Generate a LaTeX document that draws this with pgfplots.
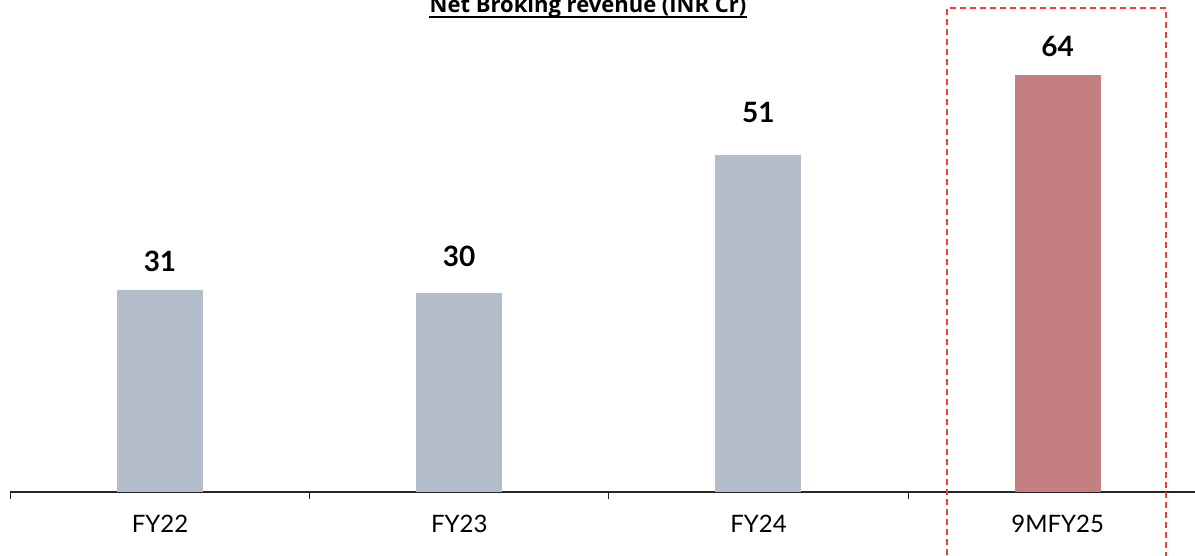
\documentclass[border=0pt]{standalone}
\usepackage{fontspec}
\setmainfont{Lato}
\newfontfamily\titlefont{Open Sans}
\usepackage{pgfplots}
\pgfplotsset{compat=1.18}
\definecolor{barGray}{RGB}{179,189,201}
\definecolor{barRed}{RGB}{196,128,128}
\definecolor{boxRed}{RGB}{245,60,60}
\begin{document}
\begin{tikzpicture}[x=1pt,y=1pt]
\begin{axis}[
  at={(10.375pt,63pt)}, anchor=south west,
  scale only axis, width=1197pt, height=489pt,
  xmin=-0.5, xmax=3.5, ymin=0, ymax=75,
  axis x line*=bottom, axis y line=none,
  axis line style={black!85, line width=1.1pt},
  xtick={0,1,2,3},
  xticklabels={FY22,FY23,FY24,9MFY25},
  major tick length=0pt,
  minor xtick={-0.5,0.5,1.5,2.5,3.5},
  minor tick length=7pt,
  tick align=outside,
  minor tick style={black!85, line width=1.1pt},
  xticklabel style={anchor=base, yshift=-40pt, font=\fontsize{24}{28}\selectfont, text=black},
  ybar, bar width=86pt, bar shift=0pt,
  point meta=explicit symbolic,
  nodes near coords,
  every node near coord/.append style={anchor=base, font=\fontsize{28}{32}\selectfont\bfseries, text=black},
  clip=false,
]
\addplot[fill=barGray, draw=none, every node near coord/.append style={yshift=18pt}] coordinates {(0,31) [31]};
\addplot[fill=barGray, draw=none, every node near coord/.append style={yshift=27pt}] coordinates {(1,30.5) [30]};
\addplot[fill=barGray, draw=none, every node near coord/.append style={yshift=32pt}] coordinates {(2,51.7) [51]};
\addplot[fill=barRed, draw=none, every node near coord/.append style={yshift=18pt}] coordinates {(3,64) [64]};
\end{axis}
\node[anchor=base, inner sep=0pt, font=\titlefont\fontsize{22}{26}\selectfont\bfseries] (T) at (588,542) {Net Broking revenue (INR Cr)};
\draw[line width=1.6pt] ([yshift=-3.8pt]T.base west) -- ([yshift=-3.8pt]T.base east);
\draw[boxRed, line width=1.5pt, dash pattern=on 6pt off 4pt] (947,-10) -- (947,547) -- (1166,547) -- (1166,-10);
\pgfresetboundingbox
\useasboundingbox (0,0) rectangle (1195,555);
\end{tikzpicture}
\end{document}
